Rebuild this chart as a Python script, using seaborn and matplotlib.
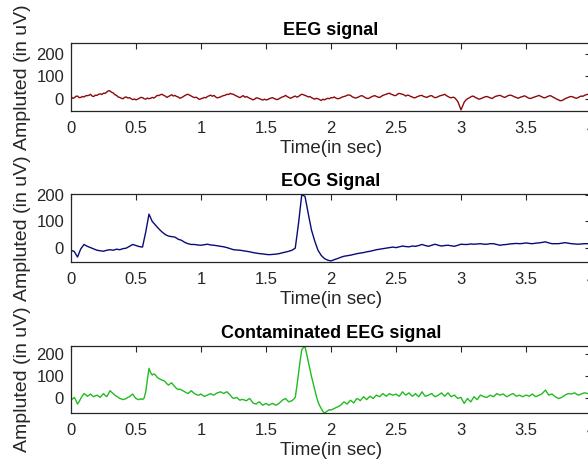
import numpy as np
import pandas as pd
import matplotlib
matplotlib.use("Agg")
import matplotlib.pyplot as plt
import seaborn as sns

# ---------------- data ----------------
eeg_step = 0.0125   # seconds per sample
eog_step = 0.025
cont_step = 0.0125

eeg_uv = [
    10, 2, 4, 11, 12, 5, 6, 10, 8, 13, 14, 15,
    20, 12, 10, 16, 15, 20, 22, 19, 25, 24, 30, 36,
    35, 29, 26, 18, 15, 8, 6, 2, 0, 6, 8, 3,
    5, 0, -4, -1, -5, -2, 2, 6, 5, 0, -2, 3,
    0, 2, 6, 3, 8, 15, 14, 18, 20, 15, 12, 6,
    10, 14, 18, 12, 15, 10, 8, 2, 5, 9, 14, 18,
    20, 16, 12, 8, 5, 7, 2, -3, 0, 2, 6, 4,
    10, 13, 16, 11, 15, 8, 4, 6, 8, 12, 14, 16,
    20, 19, 24, 21, 20, 15, 12, 8, 5, 10, 14, 7,
    10, 6, 2, -1, -5, -2, 4, 3, 0, -3, -6, -2,
    -5, -4, 0, 3, 5, 1, -2, -4, 0, 4, 8, 10,
    15, 10, 6, 2, 5, 9, 12, 7, 10, 16, 20, 18,
    15, 12, 8, 10, 5, 1, -2, 2, 0, -4, -8, -2,
    -5, -1, 2, 0, 5, 4, 8, 3, 0, 1, 4, 8,
    10, 12, 16, 17, 15, 9, 6, 3, 5, 8, 12, 14,
    10, 5, 2, 1, 5, 9, 12, 14, 10, 7, 6, 11,
    15, 18, 20, 23, 25, 20, 18, 14, 15, 21, 24, 22,
    20, 17, 12, 16, 15, 10, 8, 4, 5, 9, 12, 14,
    15, 10, 8, 6, 10, 13, 14, 8, 5, 6, 10, 13,
    15, 17, 20, 14, 10, 6, 4, 7, 5, -3, -12, -30,
    -50, -32, -15, -6, 0, 4, 8, 12, 10, 5, 2, -2,
    0, 3, 6, 9, 10, 7, 4, 1, 5, 10, 12, 14,
    15, 12, 8, 6, 10, 14, 16, 15, 12, 8, 6, 2,
    5, 8, 10, 13, 10, 5, 2, 1, 5, 7, 10, 12,
    15, 11, 8, 4, 5, 9, 12, 14, 10, 6, 2, -2,
    -5, -9, -8, -5, 0, 3, 6, 9, 10, 8, 4, 2,
    5, 9, 12, 11, 15, 18, 20, 17, 15,
]

eog_uv = [
    -10, -15, -36, -5, 12, 5,
    0, -5, -10, -12, -14, -10,
    -8, -10, -6, -8, -4, -2,
    5, 12, 8, 4, 2, 60,
    128, 100, 86, 72, 60, 50,
    44, 42, 40, 32, 28, 20,
    15, 12, 12, 10, 9, 11,
    13, 10, 9, 7, 5, 3,
    0, -4, -8, -9, -10, -12,
    -14, -16, -19, -21, -23, -24,
    -26, -27, -26, -25, -23, -20,
    -17, -14, -10, -2, 92, 202,
    196, 130, 67, 25, -10, -30,
    -42, -48, -51, -46, -42, -37,
    -33, -31, -29, -26, -23, -21,
    -19, -16, -14, -11, -8, -6,
    -4, -2, 0, 2, 0, 3,
    6, 4, 3, 6, 5, 8,
    12, 8, 5, 9, 13, 9,
    6, 8, 9, 7, 5, 9,
    13, 12, 12, 14, 13, 14,
    15, 13, 13, 15, 15, 12,
    9, 11, 12, 14, 15, 16,
    15, 16, 18, 16, 15, 17,
    18, 20, 22, 18, 15, 15,
    15, 17, 19, 17, 15, 14,
    13, 14, 15, 15, 15,
]

contaminated_uv = [
    -5, -2, 5, -8, -25, -14, 0, 12, 22, 17, 10, 14,
    20, 13, 8, 12, 15, 10, 5, 14, 22, 14, 8, 20,
    35, 28, 22, 15, 10, 6, 0, -2, -5, -3, 0, 5,
    8, 15, 20, 8, 0, -4, -5, -1, -5, 2, 30, 85,
    135, 115, 105, 110, 105, 95, 90, 86, 82, 80, 75, 66,
    60, 66, 70, 60, 52, 44, 40, 42, 38, 34, 30, 26,
    22, 28, 35, 28, 22, 18, 15, 16, 20, 14, 10, 12,
    15, 19, 22, 17, 15, 21, 25, 27, 30, 26, 22, 27,
    30, 22, 15, 6, 0, 2, 5, -2, -8, -4, -5, -8,
    -10, -4, 0, -10, -20, -23, -25, -18, -15, -24, -30, -26,
    -22, -27, -30, -25, -22, -26, -30, -27, -22, -15, -8, -4,
    0, -8, -15, -12, -10, -3, 5, 55, 112, 168, 218, 228,
    232, 200, 165, 132, 98, 68, 38, 10, -15, -32, -45, -58,
    -65, -60, -55, -50, -52, -48, -45, -41, -38, -34, -30, -22,
    -15, -20, -25, -16, -8, -14, -20, -9, 0, -4, -10, -1,
    8, 1, -5, 3, 10, 5, 0, 8, 15, 11, 8, 16,
    22, 16, 10, 16, 22, 18, 15, 17, 20, 14, 10, 20,
    30, 22, 15, 20, 25, 17, 10, 15, 22, 14, 8, 18,
    30, 19, 10, 12, 15, 19, 22, 14, 8, 11, 15, 20,
    25, 17, 10, 18, 25, 16, 8, 12, 15, 7, 0, 3,
    5, -10, -22, -10, 0, -8, -15, -4, 8, 1, -5, 6,
    15, 12, 8, 6, 5, 10, 15, 11, 8, 15, 22, 18,
    15, 18, 20, 14, 8, 11, 15, 19, 22, 16, 10, 12,
    15, 11, 8, 12, 15, 13, 10, 15, 20, 13, 8, 11,
    15, 18, 22, 30, 38, 26, 15, 18, 20, 14, 8, 4,
    0, 2, 5, 10, 15, 19, 22, 21, 20, 23, 25, 20,
    15, 17, 20, 23, 25, 24, 22, 21, 20,
]

titles = ["EEG signal", "EOG Signal", "Contaminated EEG signal"]
colors = ["#8c0a0a", "#0a0a78", "#22bb22"]
y_limits = [(-55, 250), (-55, 205), (-65, 235)]
x_ticks = [0, 0.5, 1, 1.5, 2, 2.5, 3, 3.5, 4]
x_tick_labels = ["0", "0.5", "1", "1.5", "2", "2.5", "3", "3.5", "4"]
y_ticks = [0, 100, 200]
x_label = "Time(in sec)"
y_label = "Ampluted (in uV)"

# ---------------- figure ----------------
sns.set_theme(style="white")
plt.rcParams["font.family"] = ["Liberation Sans", "DejaVu Sans"]

W, H = 588, 470
fig = plt.figure(figsize=(W / 100, H / 100), dpi=100)
fig.patch.set_facecolor("white")

series = [eeg_uv, eog_uv, contaminated_uv]
steps = [eeg_step, eog_step, cont_step]
# axes boxes in pixels: (left, top, right, bottom)
boxes = [(71, 43, 591, 111), (71, 194, 591, 262), (71, 346, 591, 413)]
dark = "#262626"

for vals, step, title, col, ylim, (l, t, r, b) in zip(series, steps, titles, colors,
                                                      y_limits, boxes):
    ax = fig.add_axes([l / W, 1 - b / H, (r - l) / W, (b - t) / H])
    df = pd.DataFrame({"time": np.arange(len(vals)) * step, "amp": vals})
    sns.lineplot(data=df, x="time", y="amp", ax=ax, color=col, linewidth=1.0,
                 estimator=None, sort=False)
    ax.set_xlim(0, 4)
    ax.set_ylim(*ylim)
    ax.set_xticks(x_ticks)
    ax.set_xticklabels(x_tick_labels)
    ax.set_yticks(y_ticks)
    ax.tick_params(direction="in", length=4, width=0.8, colors=dark,
                   labelsize=12, top=True, right=True)
    ax.tick_params(axis="x", pad=7)
    ax.tick_params(axis="y", pad=5)
    for s in ax.spines.values():
        s.set_visible(True)
        s.set_color(dark)
        s.set_linewidth(0.9)
    ax.set_facecolor("white")
    ax.set_title(title, fontsize=13, fontweight="bold", color="black", pad=6)
    ax.set_xlabel(x_label, fontsize=13.5, color=dark, labelpad=3)
    ax.set_ylabel(y_label, fontsize=14, color=dark)
    ax.yaxis.set_label_coords(-0.077, 0.5)
    ax.grid(False)

fig.savefig("out.png", dpi=100, facecolor="white")
